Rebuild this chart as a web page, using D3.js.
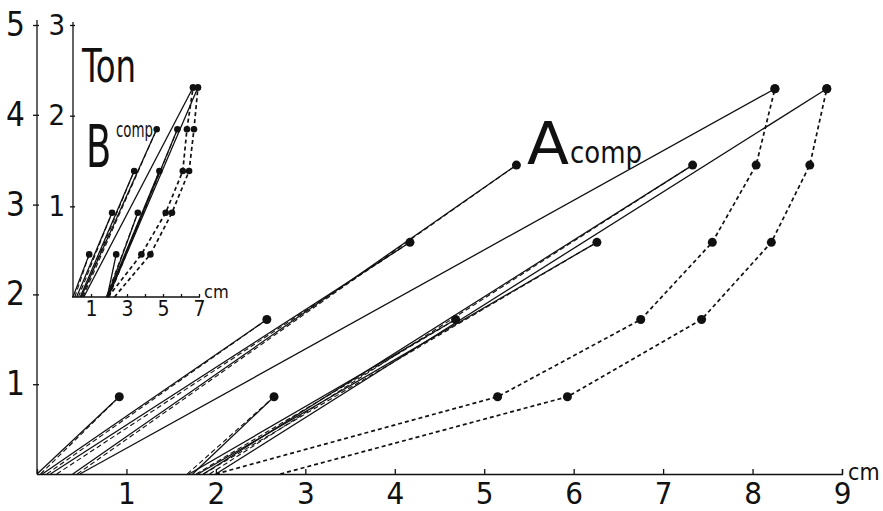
<!DOCTYPE html>
<html>
<head>
<meta charset="utf-8">
<script src="https://cdn.jsdelivr.net/npm/d3@7"></script>
<style>
  body { margin: 0; background: #fff; }
  svg { display: block; }
  text { font-family: "DejaVu Sans Condensed", "Liberation Sans Narrow", "DejaVu Sans", sans-serif; fill: #111; }
  .axis path, .axis line { stroke: #111; stroke-width: 1.3; }
</style>
</head>
<body>
<div id="chart"></div>
<script>
// main chart A (ton vs cm)
var loadsA = [0.86, 1.72, 2.58, 3.44, 4.29]
var capA1  = [0.92, 2.57, 4.17, 5.36, 8.25]
var baseA1 = [0.00, 0.06, 0.15, 0.40, 0.48]
var dashA1 = [0.04, 0.11, 0.22, 0.45, null]
var capA2  = [2.65, 4.68, 6.26, 7.33, 8.83]
var baseA2 = [1.74, 1.70, 1.80, 1.86, 2.00]
var dashA2 = [1.68, 1.78, 1.86, 1.93, null]
var envA1  = [2.00, 5.15, 6.75, 7.55, 8.04, 8.25]
var envA2  = [2.72, 5.93, 7.43, 8.21, 8.64, 8.83]

// inset chart B
var loadsB = [0.47, 0.93, 1.39, 1.85, 2.31]
var capB1  = [0.90, 2.17, 3.40, 4.65, 6.67]
var baseB1 = [0.00, 0.20, 0.40, 0.45, 0.60]
var dashB1 = [0.10, 0.30, 0.50, 0.55, null]
var capB2  = [2.40, 3.60, 4.80, 5.80, 6.94]
var baseB2 = [1.90, 1.90, 1.90, 1.95, 1.95]
var dashB2 = [null, 1.85, 1.95, 2.00, null]
var envB1  = [1.95, 3.80, 5.15, 6.10, 6.33, 6.67]
var envB2  = [2.30, 4.30, 5.50, 6.45, 6.72, 6.94]

var xTicksA = [1, 2, 3, 4, 5, 6, 7, 8, 9]
var yTicksA = [1, 2, 3, 4, 5]
var xTicksB = [1, 2, 3, 4, 5, 6, 7]
var xLabelsB = [1, 3, 5, 7]
var yTicksB = [1, 2, 3]

var W = 883, H = 511
var svg = d3.select('#chart').append('svg').attr('width', W).attr('height', H)
svg.append('rect').attr('width', W).attr('height', H).attr('fill', '#fff')

var x = d3.scaleLinear().domain([0, 9]).range([37, 842])
var y = d3.scaleLinear().domain([0, 5]).range([474, 25])
var xi = d3.scaleLinear().domain([0, 7]).range([73, 199])
var yi = d3.scaleLinear().domain([0, 3]).range([297, 25])

// axes
var gx = svg.append('g').attr('class', 'axis').attr('transform', 'translate(0,' + y(0) + ')')
  .call(d3.axisBottom(x).tickValues(xTicksA).tickSizeOuter(0).tickSize(-5).tickPadding(8).tickFormat(d3.format('d')))
gx.selectAll('text').style('font-size', '31px')

var gy = svg.append('g').attr('class', 'axis').attr('transform', 'translate(' + x(0) + ',0)')
  .call(d3.axisLeft(y).tickValues(yTicksA).tickSizeOuter(0).tickSize(4).tickPadding(8).tickFormat(d3.format('d')))
gy.select('.domain').attr('d', 'M0,' + y(0) + 'V' + (y(5) - 5))
gy.selectAll('.tick line').attr('x1', 2)
gy.selectAll('text').style('font-size', '33px')

var gxi = svg.append('g').attr('class', 'axis').attr('transform', 'translate(0,' + yi(0) + ')')
  .call(d3.axisBottom(xi).tickValues(xTicksB).tickSizeOuter(0).tickSize(-3).tickPadding(4)
    .tickFormat(function(d){ return xLabelsB.indexOf(d) >= 0 ? d : '' }))
gxi.select('.domain').attr('d', 'M' + (xi(0) - 1) + ',0H' + (xi(7) + 1))
gxi.selectAll('text').style('font-size', '21px')

var gyi = svg.append('g').attr('class', 'axis').attr('transform', 'translate(' + xi(0) + ',0)')
  .call(d3.axisLeft(yi).tickValues(yTicksB).tickSizeOuter(0).tickSize(3).tickPadding(5).tickFormat(d3.format('d')))
gyi.select('.domain').attr('d', 'M0,' + yi(0) + 'V' + (yi(3) - 3))
gyi.selectAll('.tick line').attr('x1', 2)
gyi.selectAll('text').style('font-size', '29px')

svg.append('text').attr('x', 848).attr('y', 480).style('font-size', '23px').text('cm')
svg.append('text').attr('x', 204).attr('y', 298).style('font-size', '18px').text('cm')

// draw one specimen set: straight load lines plus dotted envelopes
function drawSet(xs, ys, loads, caps, bases, dashes, envs, r){
  var lineFn = d3.line().x(function(d){ return xs(d[0]) }).y(function(d){ return ys(d[1]) })
  envs.forEach(function(env){
    var pts = env.map(function(v, i){ return [v, i == 0 ? 0 : loads[i - 1]] })
    svg.append('path').attr('d', lineFn(pts))
      .attr('fill', 'none').attr('stroke', '#111').attr('stroke-width', 1.7).attr('stroke-dasharray', '4,3')
    pts.slice(1).forEach(function(p){
      svg.append('circle').attr('cx', xs(p[0])).attr('cy', ys(p[1])).attr('r', r).attr('fill', '#111')
    })
  })
  caps.forEach(function(group, gi){
    group.forEach(function(c, i){
      var dv = dashes[gi][i]
      if (dv != null) {
        svg.append('path').attr('d', lineFn([[dv, 0], [c, loads[i]]]))
          .attr('fill', 'none').attr('stroke', '#111').attr('stroke-width', 1.1).attr('stroke-dasharray', '5,3')
      }
      svg.append('path').attr('d', lineFn([[bases[gi][i], 0], [c, loads[i]]]))
        .attr('fill', 'none').attr('stroke', '#111').attr('stroke-width', 1.3)
      svg.append('circle').attr('cx', xs(c)).attr('cy', ys(loads[i])).attr('r', r).attr('fill', '#111')
    })
  })
}

drawSet(x, y, loadsA, [capA1, capA2], [baseA1, baseA2], [dashA1, dashA2], [envA1, envA2], 4.5)
drawSet(xi, yi, loadsB, [capB1, capB2], [baseB1, baseB2], [dashB1, dashB2], [envB1, envB2], 3.3)

// labels
svg.append('text').attr('x', 82).attr('y', 82).style('font-size', '46px')
  .attr('textLength', 54).attr('lengthAdjust', 'spacingAndGlyphs').text('Ton')
// tall narrow B: small font stretched vertically
svg.append('text').attr('transform', 'translate(86,167) scale(1,1.45)').style('font-size', '41px').text('B')
svg.append('text').attr('x', 116).attr('y', 137).style('font-size', '21px')
  .attr('textLength', 37).attr('lengthAdjust', 'spacingAndGlyphs').text('comp')
svg.append('text').attr('x', 527).attr('y', 164).style('font-size', '58px')
  .attr('textLength', 42).attr('lengthAdjust', 'spacingAndGlyphs').text('A')
svg.append('text').attr('x', 570).attr('y', 163).style('font-size', '31px')
  .attr('textLength', 72).attr('lengthAdjust', 'spacingAndGlyphs').text('comp')
</script>
</body>
</html>
